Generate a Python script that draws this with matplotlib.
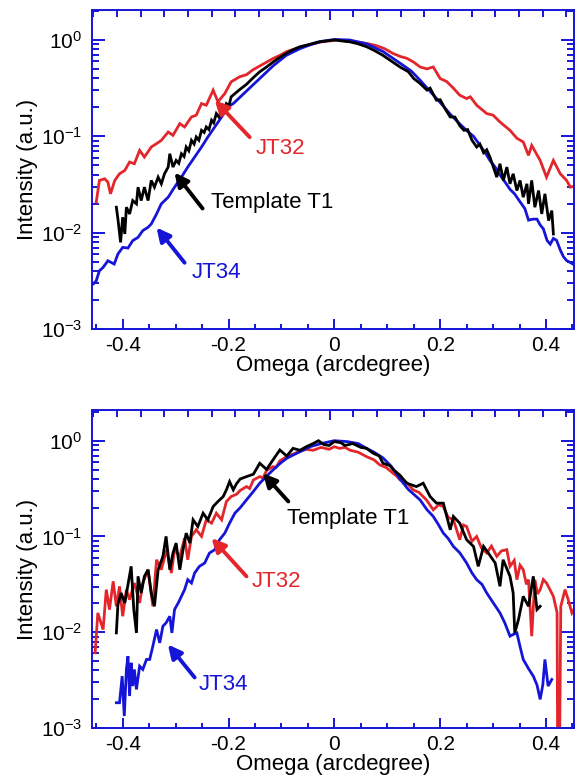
"""
Omega rocking curves (log intensity) for JT32, JT34 and template T1, two panels.
"""

import matplotlib

matplotlib.use("Agg")
import matplotlib.pyplot as plt
import numpy as np
from matplotlib.ticker import FixedLocator, LogLocator, MultipleLocator, NullFormatter

plt.rcParams["font.family"] = ["Liberation Sans", "DejaVu Sans"]
plt.rcParams["mathtext.fontset"] = "custom"
plt.rcParams["mathtext.rm"] = "Liberation Sans"
plt.rcParams["mathtext.it"] = "Liberation Sans:italic"
plt.rcParams["axes.unicode_minus"] = False

BLUE = "#1515D8"
RED = "#E3262B"
BLACK = "#000000"

# ---- top panel (log10 of intensity) ----
top_jt32_x = [-0.450, -0.444, -0.434, -0.428, -0.423, -0.415, -0.406, -0.396, -0.387, -0.378,
              -0.368, -0.359, -0.346, -0.336, -0.327, -0.314, -0.305, -0.292, -0.283, -0.270,
              -0.261, -0.251, -0.242, -0.229, -0.220, -0.207, -0.195, -0.179, -0.166, -0.154,
              -0.141, -0.128, -0.115, -0.103, -0.090, -0.078, -0.065, -0.053, -0.040, -0.025,
              -0.010, 0.005, 0.020, 0.035, 0.050, 0.065, 0.080, 0.095, 0.111, 0.124,
              0.137, 0.150, 0.162, 0.175, 0.187, 0.200, 0.212, 0.225, 0.237, 0.250,
              0.257, 0.269, 0.288, 0.300, 0.313, 0.332, 0.345, 0.357, 0.367, 0.373,
              0.389, 0.401, 0.414, 0.427, 0.439, 0.446, 0.458]
top_jt32_log = [-1.684, -1.458, -1.441, -1.476, -1.597, -1.458, -1.389, -1.354, -1.267, -1.285,
                -1.146, -1.215, -1.111, -1.076, -1.042, -0.955, -0.990, -0.868, -0.903, -0.799,
                -0.781, -0.660, -0.677, -0.521, -0.642, -0.556, -0.434, -0.382, -0.360, -0.310,
                -0.270, -0.230, -0.190, -0.160, -0.120, -0.100, -0.080, -0.060, -0.040, -0.020,
                -0.010, 0.000, -0.010, -0.020, -0.025, -0.040, -0.060, -0.090, -0.140, -0.170,
                -0.190, -0.230, -0.280, -0.300, -0.280, -0.400, -0.430, -0.500, -0.573, -0.608,
                -0.590, -0.677, -0.764, -0.780, -0.851, -0.938, -1.020, -1.059, -1.198, -1.094,
                -1.250, -1.424, -1.250, -1.389, -1.458, -1.528, -1.510]

top_t1_x = [-0.412, -0.409, -0.404, -0.400, -0.396, -0.393, -0.387, -0.381, -0.374, -0.371,
            -0.365, -0.359, -0.352, -0.346, -0.340, -0.333, -0.327, -0.321, -0.314, -0.311,
            -0.305, -0.299, -0.294, -0.289, -0.284, -0.280, -0.275, -0.270, -0.265, -0.261,
            -0.256, -0.251, -0.246, -0.242, -0.237, -0.232, -0.228, -0.223, -0.218, -0.213,
            -0.208, -0.204, -0.199, -0.195, -0.180, -0.166, -0.153, -0.141, -0.128, -0.116,
            -0.103, -0.091, -0.078, -0.065, -0.050, -0.030, -0.015, 0.000, 0.015, 0.030,
            0.045, 0.061, 0.076, 0.092, 0.108, 0.124, 0.140, 0.150, 0.162, 0.175,
            0.181, 0.193, 0.200, 0.210, 0.219, 0.228, 0.237, 0.245, 0.252, 0.260,
            0.269, 0.275, 0.282, 0.288, 0.294, 0.3005, 0.307, 0.313, 0.3195, 0.326,
            0.332, 0.338, 0.345, 0.351, 0.357, 0.364, 0.367, 0.373, 0.379, 0.386,
            0.392, 0.398, 0.405, 0.411, 0.414]
top_t1_log = [-1.736, -1.858, -2.101, -1.840, -2.014, -1.736, -1.806, -1.667, -1.701, -1.528,
              -1.667, -1.528, -1.667, -1.458, -1.528, -1.424, -1.493, -1.389, -1.319, -1.181,
              -1.319, -1.250, -1.280, -1.181, -1.210, -1.111, -1.150, -1.042, -1.080, -1.007,
              -1.040, -0.938, -0.960, -0.903, -0.930, -0.833, -0.860, -0.764, -0.800, -0.729,
              -0.740, -0.660, -0.680, -0.590, -0.520, -0.460, -0.390, -0.330, -0.280, -0.230,
              -0.180, -0.140, -0.100, -0.070, -0.050, -0.020, -0.010, 0.000, -0.010, -0.020,
              -0.040, -0.070, -0.110, -0.160, -0.220, -0.280, -0.330, -0.400, -0.451, -0.520,
              -0.500, -0.625, -0.620, -0.720, -0.799, -0.800, -0.890, -0.938, -0.930, -1.040,
              -1.111, -1.080, -1.170, -1.140, -1.215, -1.319, -1.424, -1.285, -1.458, -1.319,
              -1.493, -1.389, -1.563, -1.458, -1.632, -1.493, -1.701, -1.458, -1.736, -1.563,
              -1.806, -1.597, -1.875, -1.771, -2.014]

top_jt34_x = [-0.455, -0.450, -0.444, -0.437, -0.428, -0.416, -0.409, -0.400, -0.390, -0.381,
              -0.371, -0.362, -0.352, -0.346, -0.336, -0.327, -0.314, -0.302, -0.289, -0.277,
              -0.264, -0.251, -0.239, -0.226, -0.213, -0.201, -0.191, -0.166, -0.141, -0.116,
              -0.091, -0.065, -0.046, -0.025, 0.000, 0.029, 0.061, 0.092, 0.124, 0.145,
              0.162, 0.187, 0.205, 0.219, 0.235, 0.250, 0.263, 0.275, 0.285, 0.294,
              0.304, 0.313, 0.322, 0.332, 0.341, 0.351, 0.360, 0.367, 0.375, 0.383,
              0.389, 0.395, 0.402, 0.408, 0.414, 0.420, 0.427, 0.433, 0.439, 0.446,
              0.452, 0.458]
top_jt34_log = [-2.530, -2.500, -2.396, -2.361, -2.292, -2.326, -2.222, -2.153, -2.160, -2.083,
                -2.049, -1.979, -1.944, -1.910, -1.806, -1.701, -1.632, -1.528, -1.424, -1.319,
                -1.215, -1.111, -1.007, -0.903, -0.799, -0.694, -0.660, -0.530, -0.400, -0.270,
                -0.160, -0.090, -0.050, -0.015, 0.005, 0.000, -0.040, -0.120, -0.240, -0.320,
                -0.417, -0.570, -0.680, -0.770, -0.860, -0.940, -1.000, -1.090, -1.170, -1.250,
                -1.320, -1.400, -1.470, -1.550, -1.600, -1.680, -1.750, -1.870, -1.860, -1.860,
                -1.920, -1.960, -2.080, -2.120, -2.060, -2.080, -2.180, -2.250, -2.290, -2.310,
                -2.330, -2.360]

# ---- bottom panel ----
bot_jt32_x = [-0.452, -0.447, -0.437, -0.431, -0.425, -0.418, -0.412, -0.406, -0.400, -0.393,
              -0.387, -0.378, -0.368, -0.362, -0.352, -0.343, -0.336, -0.327, -0.317, -0.308,
              -0.302, -0.292, -0.283, -0.277, -0.270, -0.261, -0.251, -0.242, -0.232, -0.223,
              -0.213, -0.204, -0.195, -0.185, -0.178, -0.166, -0.160, -0.153, -0.141, -0.135,
              -0.128, -0.116, -0.110, -0.103, -0.090, -0.078, -0.065, -0.052, -0.040, -0.025,
              -0.010, 0.000, 0.010, 0.020, 0.030, 0.045, 0.061, 0.075, 0.086, 0.098,
              0.111, 0.118, 0.124, 0.137, 0.149, 0.160, 0.174, 0.187, 0.197, 0.206,
              0.215, 0.225, 0.237, 0.244, 0.250, 0.260, 0.269, 0.278, 0.288, 0.297,
              0.307, 0.316, 0.326, 0.332, 0.340, 0.345, 0.351, 0.357, 0.363, 0.367,
              0.373, 0.379, 0.384, 0.389, 0.395, 0.401, 0.408, 0.414, 0.421, 0.4225,
              0.4245, 0.428, 0.436, 0.442, 0.449, 0.456]
bot_jt32_log = [-2.215, -1.798, -1.972, -1.555, -1.764, -1.468, -1.729, -1.521, -1.833, -1.555,
                -1.660, -1.486, -1.694, -1.486, -1.347, -1.729, -1.243, -1.347, -1.139, -1.382,
                -1.139, -1.208, -1.017, -1.243, -0.999, -0.930, -0.999, -0.826, -0.861, -0.757,
                -0.826, -0.635, -0.583, -0.560, -0.520, -0.479, -0.500, -0.410, -0.375, -0.390,
                -0.310, -0.271, -0.280, -0.210, -0.167, -0.140, -0.110, -0.090, -0.100, -0.070,
                -0.090, -0.063, -0.080, -0.070, -0.100, -0.120, -0.167, -0.200, -0.253, -0.280,
                -0.340, -0.370, -0.409, -0.440, -0.514, -0.540, -0.618, -0.722, -0.670, -0.687,
                -0.800, -0.826, -1.034, -0.880, -0.896, -1.050, -1.000, -1.120, -1.173, -1.100,
                -1.208, -1.150, -1.138, -1.312, -1.250, -1.451, -1.300, -1.347, -1.500, -1.451,
                -2.041, -1.451, -1.600, -1.555, -1.450, -1.486, -1.560, -1.625, -1.798, -4.000,
                -4.000, -1.729, -1.555, -1.659, -1.798, -1.730]

bot_t1_x = [-0.412, -0.409, -0.403, -0.396, -0.390, -0.384, -0.379, -0.374, -0.371, -0.365,
            -0.359, -0.352, -0.346, -0.340, -0.333, -0.324, -0.318, -0.311, -0.305, -0.299,
            -0.292, -0.286, -0.280, -0.273, -0.267, -0.258, -0.248, -0.239, -0.229, -0.220,
            -0.210, -0.204, -0.198, -0.191, -0.185, -0.178, -0.166, -0.153, -0.141, -0.128,
            -0.116, -0.103, -0.090, -0.078, -0.065, -0.052, -0.040, -0.030, -0.020, -0.010,
            0.000, 0.012, 0.020, 0.035, 0.050, 0.061, 0.073, 0.085, 0.092, 0.105,
            0.111, 0.124, 0.130, 0.137, 0.155, 0.168, 0.181, 0.193, 0.206, 0.219,
            0.225, 0.237, 0.250, 0.263, 0.272, 0.282, 0.291, 0.304, 0.313, 0.319,
            0.332, 0.338, 0.341, 0.348, 0.357, 0.367, 0.376, 0.383, 0.389]
bot_t1_log = [-2.007, -1.712, -1.590, -1.694, -1.503, -1.312, -1.764, -2.007, -1.416, -1.590,
              -1.416, -1.347, -1.590, -1.729, -1.347, -1.208, -0.999, -1.347, -1.173, -1.069,
              -1.347, -1.139, -0.965, -1.069, -0.826, -0.896, -0.757, -0.826, -0.687, -0.635,
              -0.583, -0.513, -0.427, -0.513, -0.450, -0.400, -0.375, -0.350, -0.236, -0.300,
              -0.201, -0.097, -0.160, -0.080, -0.100, -0.060, -0.030, 0.000, -0.040, -0.050,
              -0.010, -0.020, -0.050, -0.030, -0.070, -0.080, -0.130, -0.160, -0.236, -0.260,
              -0.300, -0.360, -0.400, -0.444, -0.479, -0.444, -0.583, -0.652, -0.652, -0.930,
              -0.791, -0.861, -1.034, -1.104, -1.312, -1.104, -1.173, -1.277, -1.520, -1.243,
              -1.416, -1.590, -2.007, -1.868, -1.625, -1.729, -1.416, -1.763, -1.729]

bot_jt34_x = [-0.412, -0.406, -0.401, -0.397, -0.393, -0.390, -0.387, -0.384, -0.381, -0.378,
              -0.374, -0.368, -0.362, -0.355, -0.349, -0.343, -0.336, -0.330, -0.324, -0.318,
              -0.311, -0.307, -0.302, -0.295, -0.289, -0.283, -0.277, -0.270, -0.264, -0.255,
              -0.245, -0.236, -0.226, -0.217, -0.207, -0.198, -0.188, -0.178, -0.166, -0.153,
              -0.141, -0.128, -0.116, -0.103, -0.090, -0.078, -0.065, -0.046, -0.025, 0.000,
              0.025, 0.045, 0.061, 0.075, 0.092, 0.108, 0.124, 0.140, 0.162, 0.175,
              0.187, 0.196, 0.206, 0.215, 0.225, 0.237, 0.250, 0.260, 0.269, 0.279,
              0.288, 0.300, 0.313, 0.322, 0.332, 0.339, 0.345, 0.351, 0.357, 0.367,
              0.376, 0.383, 0.389, 0.394, 0.398, 0.404, 0.411]
bot_jt34_log = [-2.736, -2.736, -2.458, -2.875, -2.388, -2.250, -2.666, -2.319, -2.562, -2.388,
                -2.597, -2.354, -2.388, -2.284, -2.284, -2.145, -1.972, -2.111, -1.937, -1.902,
                -1.833, -2.007, -1.763, -1.694, -1.625, -1.555, -1.451, -1.486, -1.381, -1.312,
                -1.277, -1.173, -1.138, -1.034, -0.965, -0.861, -0.757, -0.700, -0.618, -0.530,
                -0.444, -0.370, -0.306, -0.240, -0.184, -0.150, -0.115, -0.063, -0.030, 0.000,
                -0.010, -0.030, -0.080, -0.120, -0.180, -0.270, -0.400, -0.510, -0.618, -0.720,
                -0.791, -0.870, -0.965, -1.020, -1.104, -1.170, -1.277, -1.380, -1.451, -1.500,
                -1.590, -1.690, -1.798, -1.900, -2.041, -2.020, -2.007, -2.150, -2.284, -2.380,
                -2.458, -2.550, -2.701, -2.550, -2.284, -2.562, -2.493]

# annotations: label, colour, arrow tip (x, y), arrow tail (x, y), text anchor (x, y)
top_notes = [
    ("JT32", RED, (-0.226, 0.237), (-0.160, 0.098), (-0.149, 0.075)),
    ("Template T1", BLACK, (-0.302, 0.042), (-0.249, 0.0178), (-0.234, 0.0205)),
    ("JT34", BLUE, (-0.336, 0.0113), (-0.283, 0.00487), (-0.270, 0.00383)),
]
bot_notes = [
    ("Template T1", BLACK, (-0.135, 0.457), (-0.087, 0.232), (-0.090, 0.153)),
    ("JT32", RED, (-0.232, 0.0962), (-0.166, 0.0383), (-0.156, 0.034)),
    ("JT34", BLUE, (-0.3145, 0.00744), (-0.264, 0.00337), (-0.256, 0.00285)),
]

XLIM = (-0.458, 0.453)
TOP_TICK0 = -0.0085
TOP_TICK_STEP = 0.0447


def style_axes(ax, ytop):
    ax.set_yscale("log")
    ax.set_xlim(*XLIM)
    ax.set_ylim(1e-3, ytop)
    for sp in ax.spines.values():
        sp.set_color(BLUE)
        sp.set_linewidth(1.4)
    ax.xaxis.set_major_locator(FixedLocator([-0.4, -0.2, 0.0, 0.2, 0.4]))
    ax.xaxis.set_minor_locator(MultipleLocator(0.05))
    ax.set_xticklabels(["-0.4", "-0.2", "0", "0.2", "0.4"])
    ax.yaxis.set_major_locator(LogLocator(base=10, numticks=10))
    ax.yaxis.set_minor_locator(LogLocator(base=10, subs=np.arange(2, 10), numticks=20))
    ax.yaxis.set_minor_formatter(NullFormatter())
    ax.tick_params(axis="x", which="major", direction="in", length=7, width=1.4,
                   color=BLUE, labelsize=15, pad=5, top=False)
    ax.tick_params(axis="x", which="minor", direction="in", length=3.8, width=1.4,
                   color=BLUE, top=False)
    ax.tick_params(axis="y", which="major", direction="in", length=9.5, width=1.4,
                   color=BLUE, labelsize=15, pad=7, right=True)
    ax.tick_params(axis="y", which="minor", direction="in", length=5, width=1.4,
                   color=BLUE, right=True)
    ax.set_xlabel("Omega (arcdegree)", fontsize=16, labelpad=0)
    ax.set_ylabel("Intensity (a.u.)", fontsize=16, labelpad=2)

    # separate tick row along the top edge
    top = ax.twiny()
    top.set_xlim(*XLIM)
    k = np.arange(-10, 11)
    top.xaxis.set_major_locator(FixedLocator([TOP_TICK0]))
    top.xaxis.set_minor_locator(FixedLocator(TOP_TICK0 + k * TOP_TICK_STEP))
    top.tick_params(axis="x", which="major", direction="in", length=7, width=1.4,
                    color=BLUE, labeltop=False)
    top.tick_params(axis="x", which="minor", direction="in", length=5, width=1.4,
                    color=BLUE)
    for sp in top.spines.values():
        sp.set_visible(False)


def draw_panel(ax, curves, notes, ytop):
    for xs, logs, color in curves:
        ax.plot(xs, 10 ** np.array(logs), color=color, lw=2.0, solid_joinstyle="miter")
    for label, color, tip, tail, anchor in notes:
        ax.annotate("", xy=tip, xytext=tail,
                    arrowprops=dict(arrowstyle="-|>", color=color, lw=2.8,
                                    mutation_scale=20, shrinkA=0, shrinkB=0))
        ax.text(anchor[0], anchor[1], label, color=color, fontsize=16,
                ha="left", va="center")
    style_axes(ax, ytop)


fig = plt.figure(figsize=(5.75, 7.84), dpi=100)
ax_top = fig.add_axes([0.160, 0.5804, 0.8383, 0.4069])
ax_bot = fig.add_axes([0.160, 0.0714, 0.8383, 0.4056])

draw_panel(ax_top,
           [(top_jt32_x, top_jt32_log, RED),
            (top_jt34_x, top_jt34_log, BLUE),
            (top_t1_x, top_t1_log, BLACK)],
           top_notes, 2.05)
draw_panel(ax_bot,
           [(bot_jt32_x, bot_jt32_log, RED),
            (bot_jt34_x, bot_jt34_log, BLUE),
            (bot_t1_x, bot_t1_log, BLACK)],
           bot_notes, 2.09)

fig.savefig("out.png", dpi=100)
